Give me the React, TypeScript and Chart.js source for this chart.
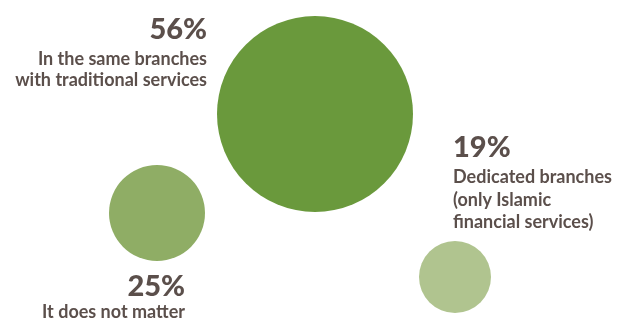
import React, { useEffect, useRef } from "react";
import { Chart, registerables } from "chart.js";

Chart.register(...registerables);

// Data
const categories = [
  ["In the same branches", "with traditional services"],
  ["It does not matter"],
  ["Dedicated branches", "(only Islamic", "financial services)"],
];
const shares = [56, 25, 19];
const pctLabels = ["56%", "25%", "19%"];
// bubble centre positions (chart units: x 0..630, y 0..320 top-down) and radii
const bubbleX = [315, 157, 455];
const bubbleY = [114, 213, 277];
const bubbleR = [98, 48, 36];
const bubbleColors = ["#6a993c", "#8fad65", "#b0c48f"];

// label anchors (chart units)
const labelX = [207, 185, 453];
const labelY = [39, 296, 157];
const labelAlign: CanvasTextAlign[] = ["right", "right", "left"];
const firstLineGap = [26, 22, 26];
const lineGap = [21, 21, 22.5];

const TEXT_COLOR = "#5b4f4b";
const FONT = "Lato, 'Open Sans', sans-serif";

const labelPlugin = {
  id: "bubbleLabels",
  afterDatasetsDraw(chart: any) {
    const { ctx, scales } = chart;
    const xs = scales.x;
    const ys = scales.y;
    ctx.save();
    ctx.fillStyle = TEXT_COLOR;
    ctx.textBaseline = "alphabetic";
    for (let i = 0; i < shares.length; i++) {
      const px = xs.getPixelForValue(labelX[i]);
      const py = ys.getPixelForValue(labelY[i]);
      ctx.textAlign = labelAlign[i];
      ctx.font = `900 29px ${FONT}`;
      ctx.fillText(pctLabels[i], px, py);
      ctx.font = `700 18px ${FONT}`;
      const lines = categories[i];
      for (let j = 0; j < lines.length; j++) {
        ctx.fillText(lines[j], px, py + firstLineGap[i] + j * lineGap[i]);
      }
    }
    ctx.restore();
  },
};

export default function App() {
  const ref = useRef<HTMLCanvasElement>(null);
  useEffect(() => {
    if (!ref.current) return;
    const chart = new Chart(ref.current, {
      type: "bubble",
      data: {
        datasets: [
          {
            data: shares.map((_, i) => ({ x: bubbleX[i], y: bubbleY[i], r: bubbleR[i] })),
            backgroundColor: bubbleColors,
            borderWidth: 0,
            hoverBorderWidth: 0,
            clip: false,
          } as any,
        ],
      },
      options: {
        responsive: false,
        animation: false,
        layout: { padding: 0, autoPadding: false },
        plugins: { legend: { display: false }, tooltip: { enabled: false } },
        scales: {
          x: { type: "linear", min: 0, max: 630, display: false },
          y: { type: "linear", min: 0, max: 320, reverse: true, display: false },
        },
      } as any,
      plugins: [labelPlugin],
    });
    return () => chart.destroy();
  }, []);
  return (
    <div style={{ position: "absolute", left: 0, top: 0, width: 630, height: 320, background: "#fff" }}>
      <canvas ref={ref} width={630} height={320} />
    </div>
  );
}
